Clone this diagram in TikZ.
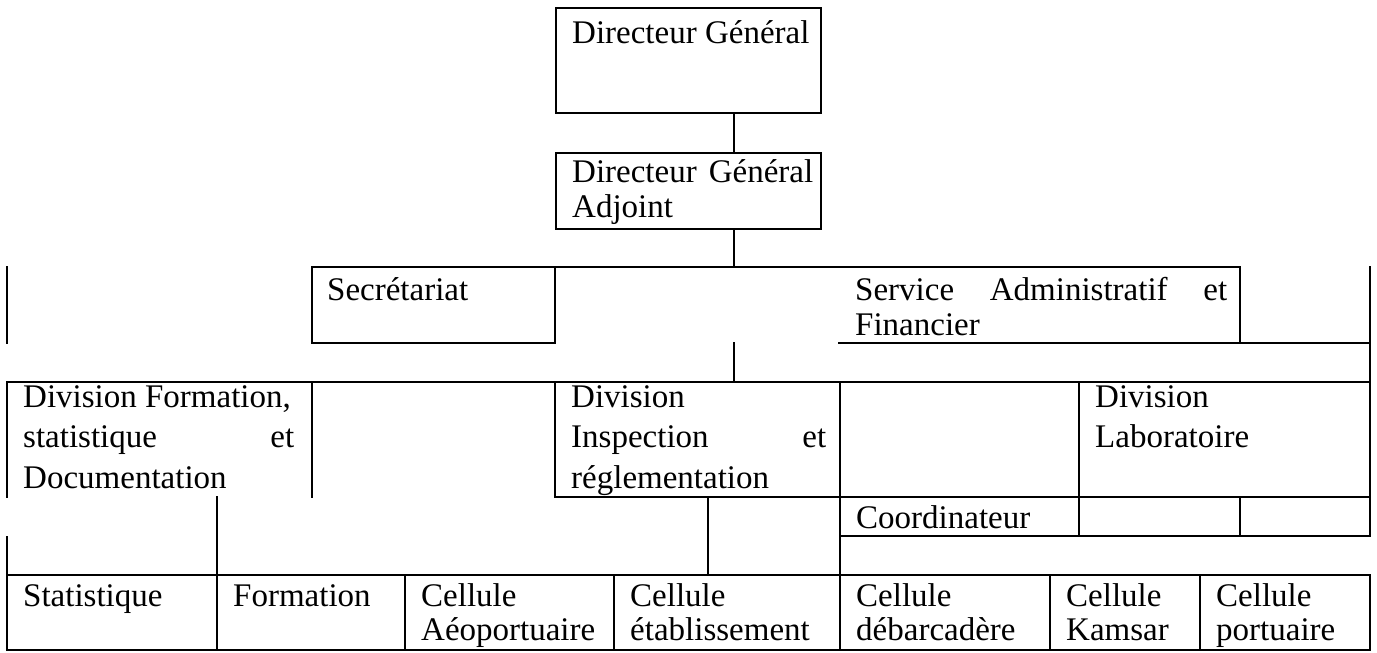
\documentclass[tikz,border=0pt]{standalone}
\usepackage{fontspec}
\setmainfont{Liberation Serif}
\tikzset{
  ln/.style={line width=2.2pt, line cap=rect},
  cell/.style={draw, line width=2.2pt, inner sep=0pt, outer sep=0pt, anchor=north west},
  txt/.style={anchor=base west, inner sep=0pt, font=\fontsize{33}{40}\selectfont},
}
\begin{document}
\begin{tikzpicture}[x=1pt,y=-1pt]
\useasboundingbox (0,0) rectangle (1377,653);
% spine coordinates
\coordinate (sp) at (734,0);
\coordinate (sp3) at (734,267);
\coordinate (sp3b) at (734,343);
\coordinate (sp4) at (734,382);
% top boxes
\node[cell, minimum width=265pt, minimum height=105pt] (dg) at (556,8) {};
\node[cell, minimum width=265pt, minimum height=76pt] (dga) at (556,153) {};
\draw[ln] (dg.south -| sp) -- (dga.north -| sp);
\draw[ln] (dga.south -| sp) -- (sp3);
% row 3
\node[cell, minimum width=243pt, minimum height=76pt] (sec) at (312,267) {};
\coordinate (svcne) at (1240,267);
\coordinate (svcse) at (1240,343);
\coordinate (svcsw) at (839,343);
\coordinate (rr3t) at (1370,267);
\coordinate (rr3b) at (1370,343);
\coordinate (l3t) at (7,267);
\coordinate (l3b) at (7,343);
\draw[ln] (sec.north west) -- (svcne) -- (svcse);
\draw[ln] (svcsw) -- (rr3b);
\draw[ln] (l3t) -- (l3b);
\draw[ln] (sp3b) -- (sp4);
% row 4
\coordinate (l4) at (7,382);
\coordinate (r4) at (1370,382);
\draw[ln] (rr3t) -- (r4);
\draw[ln] (l4) -- (r4);
\coordinate (dfl) at (7,497);
\coordinate (dfrt) at (312,382);
\coordinate (dfrb) at (312,497);
\draw[ln] (l4) -- (dfl);
\draw[ln] (dfrt) -- (dfrb);
\node[cell, minimum width=285pt, minimum height=115pt] (dinsp) at (555,382) {};
\node[cell, minimum width=291pt, minimum height=115pt] (dlab) at (1079,382) {};
\coordinate (v840t) at (840,382);
\coordinate (v840b) at (840,575);
\draw[ln] (v840t) -- (v840b);
\draw[ln] (dinsp.south east) -- (dlab.south west);
% coordinateur row
\node[cell, minimum width=239pt, minimum height=39pt] (coord) at (840,497) {};
\node[cell, minimum width=161pt, minimum height=39pt] (ce2) at (1079,497) {};
\node[cell, minimum width=130pt, minimum height=39pt] (ce3) at (1240,497) {};
% stubs
\coordinate (s217t) at (217,497);
\coordinate (s708t) at (708,497);
\coordinate (s7t) at (7,537);
% bottom row
\node[cell, minimum width=210pt, minimum height=75pt] (b1) at (7,575) {};
\node[cell, minimum width=188pt, minimum height=75pt] (b2) at (217,575) {};
\node[cell, minimum width=209pt, minimum height=75pt] (b3) at (405,575) {};
\node[cell, minimum width=226pt, minimum height=75pt] (b4) at (614,575) {};
\node[cell, minimum width=210pt, minimum height=75pt] (b5) at (840,575) {};
\node[cell, minimum width=150pt, minimum height=75pt] (b6) at (1050,575) {};
\node[cell, minimum width=170pt, minimum height=75pt] (b7) at (1200,575) {};
\draw[ln] (s217t) -- (b2.north west);
\draw[ln] (s708t) -- (s708t |- b4.north);
\draw[ln] (s7t) -- (b1.north west);
% texts
\node[txt] (t1) at (572,43) {Directeur Général};
\node[txt] (t2a) at (572,182) {\makebox[241pt][s]{Directeur Général}};
\node[txt] (t2b) at (572,217) {Adjoint};
\node[txt] (t3) at (327,300) {Secrétariat};
\node[txt] (t4a) at (855,300) {\makebox[372pt][s]{Service Administratif et}};
\node[txt] (t4b) at (855,335) {Financier};
\node[txt] (t5a) at (23,407) {Division Formation,};
\node[txt] (t5b) at (23,447) {\makebox[271pt][s]{statistique et}};
\node[txt] (t5c) at (23,488) {Documentation};
\node[txt] (t6a) at (571,407) {Division};
\node[txt] (t6b) at (571,447) {\makebox[255pt][s]{Inspection et}};
\node[txt] (t6c) at (571,488) {réglementation};
\node[txt] (t7a) at (1095,407) {Division};
\node[txt] (t7b) at (1095,447) {Laboratoire};
\node[txt] (t8) at (856,528) {Coordinateur};
\node[txt] (t9) at (23,606) {Statistique};
\node[txt] (t10) at (233,606) {Formation};
\node[txt] (t11a) at (421,606) {Cellule};
\node[txt] (t11b) at (421,640) {Aéoportuaire};
\node[txt] (t12a) at (630,606) {Cellule};
\node[txt] (t12b) at (630,640) {établissement};
\node[txt] (t13a) at (856,606) {Cellule};
\node[txt] (t13b) at (856,640) {débarcadère};
\node[txt] (t14a) at (1066,606) {Cellule};
\node[txt] (t14b) at (1066,640) {Kamsar};
\node[txt] (t15a) at (1216,606) {Cellule};
\node[txt] (t15b) at (1216,640) {portuaire};
\end{tikzpicture}
\end{document}
